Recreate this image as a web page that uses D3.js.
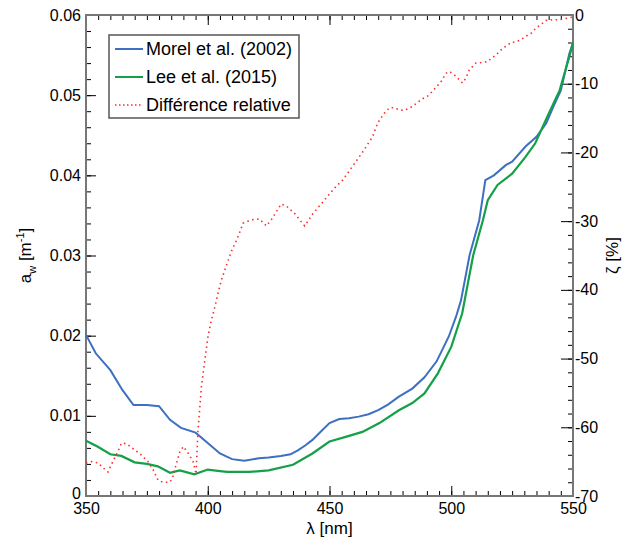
<!DOCTYPE html>
<html>
<head>
<meta charset="utf-8">
<script src="https://cdn.jsdelivr.net/npm/d3@7"></script>
<style>
	body { margin: 0; background: #fff; }
	text { font-family: "Liberation Sans", Arial, sans-serif; fill: #000; }
</style>
</head>
<body>
<script>
//wavelengths (nm) and absorption (m-1)
var wlMorel = [350,354,360,365,369.5,375,380,384.5,389,395,400,405,410,415,421,425,430,434,437,440,443,447,450,454,458,462,466,470,474,478.5,484,489,494,499,502,504,507.5,511.5,514,517.5,522.5,525,530.5,535,539,542,545,548.5,550];
var aMorel = [0.0201,0.0178,0.0157,0.0132,0.01135,0.01135,0.0112,0.0095,0.0085,0.0079,0.0066,0.0053,0.0046,0.0044,0.0047,0.0048,0.0050,0.0052,0.0057,0.0063,0.0070,0.0082,0.0091,0.0096,0.0097,0.0099,0.0102,0.0107,0.0114,0.0124,0.0134,0.0148,0.0168,0.0199,0.0224,0.0244,0.0300,0.0344,0.0394,0.0400,0.0413,0.0417,0.0436,0.0448,0.0465,0.0486,0.0506,0.0552,0.0565];

var wlLee = [350,354.5,360,364.5,370,375,379.5,384.5,388.5,394.5,400,405,408,417,425,435,443,450,457,463.5,470.5,478.5,484,489,494.5,500,504.5,509,513,515,519,525,530.5,534.5,540,544.5,548.5,550];
var aLee = [0.0069,0.0062,0.0052,0.0050,0.0042,0.0040,0.0037,0.0029,0.0032,0.0027,0.0033,0.0031,0.0030,0.0030,0.0032,0.0039,0.0053,0.0068,0.0074,0.0080,0.0091,0.0107,0.0116,0.0128,0.0153,0.0186,0.0228,0.0300,0.0344,0.0369,0.0388,0.0402,0.0423,0.0440,0.0477,0.0506,0.0548,0.0565];

//relative difference (%) on the right axis
var wlDiff = [350,352.3,355,357,359,361,363,364.6,366.7,370,372,374,375.5,377.6,379.6,381.7,384.4,385.5,387.2,388.5,390,392,394,395.2,396,397.4,398.8,400.1,401.5,402.9,404.2,405.6,407.7,409.7,412.4,414.5,417.9,421.3,424.1,426.1,428.2,430.2,432.3,435.7,439.8,443.2,447.3,452,455.5,459.5,463.5,467.7,469.8,472.5,474.6,476.6,478.7,480.7,484.1,486.2,488.2,490.3,492.3,495.8,497.8,499.2,501.2,503.3,504.6,506,507.4,510.1,512.8,514.9,516.9,519,521,523.1,524.5,526.5,528.6,530.6,532.7,534.8,536.8,538.8,541.4,544.3,547,550];
var diff = [-65.2,-65.0,-65.2,-65.9,-66.5,-65.0,-63.6,-62.3,-62.4,-63.3,-63.8,-64.5,-65.0,-66.2,-67.7,-68.0,-68.0,-67.4,-65.2,-63.6,-62.8,-63.8,-65.0,-66.8,-60.4,-54.1,-50.2,-46.8,-44.4,-42.5,-40.5,-38.6,-36.4,-34.4,-32.3,-30.3,-29.8,-29.7,-30.7,-29.8,-28.6,-27.5,-27.8,-28.9,-30.7,-28.9,-27.2,-25.2,-24.0,-22.0,-20.0,-17.7,-15.7,-14.3,-13.5,-13.5,-13.8,-13.9,-13.3,-12.7,-12.2,-11.8,-11.1,-9.7,-8.5,-8.2,-8.7,-9.4,-9.9,-9.2,-8.0,-7.0,-6.9,-6.8,-6.2,-5.6,-4.9,-4.4,-4.0,-3.9,-3.6,-3.1,-2.7,-1.9,-1.4,-0.8,-0.7,-0.7,-0.5,-0.3];

//legend labels
var seriesNames = ["Morel et al. (2002)", "Lee et al. (2015)", "Différence relative"];
var seriesColors = ["#3d6fc2", "#14a048", "#ff2b2b"];

//tick values
var xTicks = [350, 400, 450, 500, 550];
var yTicks = [0, 0.01, 0.02, 0.03, 0.04, 0.05, 0.06];
var zTicks = [0, -10, -20, -30, -40, -50, -60, -70];

window.onload = function(){
	var w = 623, h = 544;
	var left = 86, right = 573, top = 15, bottom = 496;

	var svg = d3.select("body")
		.append("svg")
		.attr("width", w)
		.attr("height", h);

	//scales
	var x = d3.scaleLinear().domain([350, 550]).range([left, right]);
	var y = d3.scaleLinear().domain([0, 0.06]).range([bottom, top]);
	var z = d3.scaleLinear().domain([-70, 0]).range([bottom, top]);

	//minor tick helper: ticks pointing into the plot, no labels
	function minor(axis, vals){
		return axis.tickValues(vals).tickSize(-5).tickFormat("");
	}

	var xMinor = d3.range(350, 551, 5);
	var yMinor = d3.range(0, 31).map(function(i){ return i * 0.002; });
	var zMinor = d3.range(-70, 1, 2);

	//bottom
	svg.append("g").attr("class", "minor").attr("transform", "translate(0," + bottom + ")")
		.call(minor(d3.axisBottom(x), xMinor));
	svg.append("g").attr("class", "axis x").attr("transform", "translate(0," + bottom + ")")
		.call(d3.axisBottom(x).tickValues(xTicks).tickSize(-10).tickPadding(4)
			.tickFormat(function(d){ return String(d); }));
	//top (mirror, no labels)
	svg.append("g").attr("class", "minor").attr("transform", "translate(0," + top + ")")
		.call(minor(d3.axisTop(x), xMinor));
	svg.append("g").attr("class", "minor").attr("transform", "translate(0," + top + ")")
		.call(d3.axisTop(x).tickValues(xTicks).tickSize(-10).tickFormat(""));
	//left
	svg.append("g").attr("class", "minor").attr("transform", "translate(" + left + ",0)")
		.call(minor(d3.axisLeft(y), yMinor));
	svg.append("g").attr("class", "axis y").attr("transform", "translate(" + left + ",0)")
		.call(d3.axisLeft(y).tickValues(yTicks).tickSize(-10).tickPadding(5)
			.tickFormat(function(d){ return d === 0 ? "0" : d.toFixed(2); }));
	//right
	svg.append("g").attr("class", "minor").attr("transform", "translate(" + right + ",0)")
		.call(minor(d3.axisRight(z), zMinor));
	svg.append("g").attr("class", "axis z").attr("transform", "translate(" + right + ",0)")
		.call(d3.axisRight(z).tickValues(zTicks).tickSize(-12).tickPadding(2)
			.tickFormat(function(d){ return String(d); }));

	svg.selectAll(".domain").remove();
	svg.selectAll(".tick line").attr("stroke", "#000").attr("stroke-width", 1);
	svg.selectAll(".axis text").style("font-size", "16px");
	//bottom labels sit a bit lower, "0" on the left sits on the axis line
	svg.selectAll(".axis.x text").attr("dy", "0.85em");
	svg.selectAll(".axis.y .tick").filter(function(d){ return d === 0; }).select("text").attr("dy", "0.15em");

	//plot frame
	svg.append("rect")
		.attr("x", left).attr("y", top)
		.attr("width", right - left).attr("height", bottom - top)
		.attr("fill", "none")
		.attr("stroke", "#777")
		.attr("stroke-width", 2);

	//line generators
	var lineA = d3.line()
		.x(function(d){ return x(d[0]); })
		.y(function(d){ return y(d[1]); });
	var lineZ = d3.line()
		.x(function(d){ return x(d[0]); })
		.y(function(d){ return z(d[1]); });

	svg.append("path")
		.datum(d3.zip(wlMorel, aMorel))
		.attr("class", "morel")
		.attr("d", lineA)
		.attr("fill", "none")
		.attr("stroke", seriesColors[0])
		.attr("stroke-width", 2);

	svg.append("path")
		.datum(d3.zip(wlLee, aLee))
		.attr("class", "lee")
		.attr("d", lineA)
		.attr("fill", "none")
		.attr("stroke", seriesColors[1])
		.attr("stroke-width", 2.2);

	svg.append("path")
		.datum(d3.zip(wlDiff, diff))
		.attr("class", "diff")
		.attr("d", lineZ)
		.attr("fill", "none")
		.attr("stroke", seriesColors[2])
		.attr("stroke-width", 1.6)
		.attr("stroke-dasharray", "1.5,3.5");

	//axis titles
	svg.append("text")
		.attr("x", (left + right) / 2)
		.attr("y", 534)
		.attr("text-anchor", "middle")
		.style("font-size", "17px")
		.text("λ [nm]");

	var yTitle = svg.append("text")
		.attr("transform", "translate(31," + ((top + bottom) / 2) + ") rotate(-90)")
		.attr("text-anchor", "middle")
		.style("font-size", "17px");
	yTitle.append("tspan").text("a");
	yTitle.append("tspan").attr("dy", 5).style("font-size", "11px").text("w");
	yTitle.append("tspan").attr("dy", -5).text(" [m");
	yTitle.append("tspan").attr("dy", -7).style("font-size", "11px").text("-1");
	yTitle.append("tspan").attr("dy", 7).text("]");

	svg.append("text")
		.attr("transform", "translate(618," + ((top + bottom) / 2) + ") rotate(-90)")
		.attr("text-anchor", "middle")
		.style("font-size", "17px")
		.text("ζ [%]");

	//legend
	var legend = svg.append("g").attr("class", "legend");
	legend.append("rect")
		.attr("x", 109).attr("y", 35)
		.attr("width", 190).attr("height", 83)
		.attr("fill", "#fff")
		.attr("stroke", "#555")
		.attr("stroke-width", 1.5);

	var rows = legend.selectAll(".row")
		.data(seriesNames)
		.enter()
		.append("g")
		.attr("class", "row")
		.attr("transform", function(d, i){ return "translate(0," + (49 + i * 28) + ")"; });

	rows.append("line")
		.attr("x1", 115).attr("x2", 143)
		.attr("stroke", function(d, i){ return seriesColors[i]; })
		.attr("stroke-width", function(d, i){ return i === 2 ? 1.6 : 2; })
		.attr("stroke-dasharray", function(d, i){ return i === 2 ? "1.5,2.5" : null; });

	rows.append("text")
		.attr("x", 146)
		.attr("dy", "0.35em")
		.style("font-size", "18px")
		.text(function(d){ return d; });
};
</script>
</body>
</html>
